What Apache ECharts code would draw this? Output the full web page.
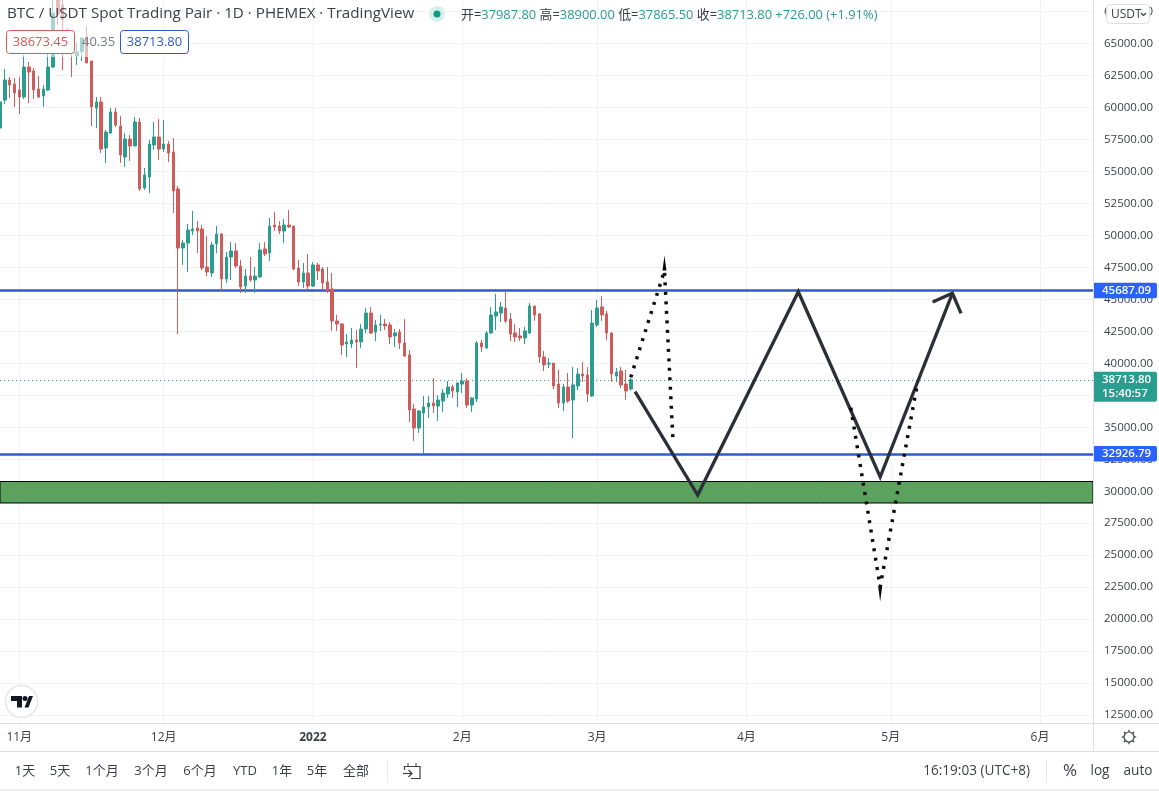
<!DOCTYPE html>
<html>
<head>
<meta charset="utf-8">
<title>BTC / USDT</title>
<script src="https://cdn.jsdelivr.net/npm/echarts@6/dist/echarts.min.js"></script>
<style>
    html, body { margin: 0; padding: 0; background: #fff; }
    #chart { width: 1159px; height: 791px; }
</style>
</head>
<body>
<div id="chart"></div>
<script>
var FONT = '"Open Sans", "Noto Sans CJK SC", sans-serif';
var UP = '#2a9d8f', DOWN = '#cf5b5b', LINE_BLUE = '#3159c9', TAG_BLUE = '#2962ff', INK = '#3c3f46', RULE = '#dcdee3';

var firstDay = '2021-10-28';
var dayCount = 228;
var monthLabels = {
    '2021-11-01': '11月', '2021-12-01': '12月', '2022-01-01': '{b|2022}', '2022-02-01': '2月',
    '2022-03-01': '3月', '2022-04-01': '4月', '2022-05-01': '5月', '2022-06-01': '6月'
};
var priceTicks = [12500, 15000, 17500, 20000, 22500, 25000, 27500, 30000, 32500, 35000, 37500, 40000,
    42500, 45000, 47500, 50000, 52500, 55000, 57500, 60000, 62500, 65000, 67500];

// open, close, low, high
var candles = [
    [58390,60430,58000,60580],[60580,62150,60270,63010],[62150,61760,60740,62380],[61830,61130,60040,62300],
    [61370,60820,59490,62380],[60820,63160,60660,64100],[63160,62770,60350,63550],[62850,61370,60660,63080],
    [61440,60820,60740,62460],[60900,61440,60040,61760],[61370,63160,61290,64490],[63160,67380,63080,68800],
    [68600,67300,66450,69000],[68010,66840,62930,68700],[65900,64880,64340,66210],[65120,64340,62380,65270],
    [64020,64340,63320,65040],[64340,65430,63630,65510],[65510,63480,63480,66370],[63630,60040,58550,63630],
    [59960,60430,58390,60820],[60430,56750,56440,60820],[56830,58080,55660,58240],[58000,59650,57930,59960],
    [59650,58630,58470,59960],[58550,56280,55660,59330],[56130,57530,55350,58000],[57530,56990,55820,57850],
    [56990,58860,56990,59250],[58860,53630,53470,59180],[53700,54720,53550,55270],[54560,57140,53310,57460],
    [57070,57690,56680,58860],[57690,56750,55890,59100],[56750,57140,56520,59020],[57140,56440,55740,57380],
    [56520,53470,51750,57610],[53630,49010,42290,53860],[49010,49400,47690,49640],[49400,50420,47140,50890],
    [50340,50500,50030,51910],[50580,50340,48620,51120],[50500,47450,47290,50810],[47530,47140,46820,49950],
    [47060,49250,46750,49480],[49330,50110,48620,50730],[50110,46590,45650,50190],[46590,48310,46280,48700],
    [48310,48780,46510,49480],[48780,47610,47450,49400],[47610,45970,45500,48080],[46040,46820,45500,47370],
    [46820,46510,46360,48310],[46510,46820,45500,47530],[46750,48860,46670,49400],[48940,48550,48390,49480],
    [48620,50730,48000,51360],[50810,50660,50340,51830],[50730,50340,50110,51120],[50340,50810,49400,51280],
    [50810,50660,50580,51980],[50730,47370,47290,50730],[47450,46360,46040,48080],[46360,47060,45890,47840],
    [47060,46040,45730,48540],[46040,47690,45970,47920],[47690,47220,46510,47840],[47370,46280,45730,47530],
    [46360,45650,45500,47530],[45810,43310,42530,47060],[43310,43070,42530,43780],[43070,41430,40650,43150],
    [41510,41670,40490,42290],[41510,41820,41200,42760],[41820,41670,39630,42600],[41670,42680,41200,43070],
    [42680,43930,42370,44320],[43930,42370,42290,44400],[42450,43000,41740,43390],[43000,43070,42530,43780],
    [43070,42920,42600,43460],[43000,42060,41510,43230],[42140,42370,41280,42680],[42450,41590,41120,42680],
    [41590,40570,40490,43460],[40650,36350,35410,41040],[36430,34940,33930,36820],[34940,36270,34550,36350],
    [36120,36590,32990,37450],[36590,36900,35730,37450],[36900,36660,36120,38850],[36660,37130,35490,37520],
    [37050,37680,36190,37990],[37600,38150,37290,38620],[38150,37840,37290,38310],[37760,38460,36590,38540],
    [38380,38620,37680,39240],[38620,36740,36510,38850],[36740,37290,36190,37370],[37210,41590,36980,41740],
    [41590,41280,40880,41820],[41200,42370,41120,42530],[42370,43780,42290,44400],[43700,44010,42600,45420],
    [43930,44400,43230,44790],[44320,43310,43150,45570],[43460,42290,41740,43930],[42370,42060,41670,43070],
    [42140,41980,41740,42760],[41980,42530,41510,42840],[42370,44480,42290,44720],[44480,43780,43310,44480],
    [43860,40490,40020,43930],[40490,39870,39400,40960],[39950,40020,39630,40420],[40020,38230,37990,40020],
    [38380,36900,36510,39480],[36900,38150,36270,38380],[38150,37050,36900,39240],[37130,38310,34160,39710],
    [38230,39160,37910,39630],[39160,39010,38540,40100],[39090,37600,36980,39710],[37450,43150,37370,44170],
    [43000,44320,42840,44950],[44400,43780,43310,45260],[43860,42370,41820,44090],[42370,39160,38540,42450],
    [39010,39320,38540,39630],[39400,38310,38070,39710],[38380,37840,37130,39480],[37987.8,38713.8,37865.5,38900]
];

var upperLevel = 45687.09;
var lowerLevel = 32926.79;
var lastPrice = 38713.80;
var countdown = '15:40:57';
var supportZone = [29080, 30760];

// drawn projections, as [day index, price]
var solidPath = [[131.9,37780],[144.9,29706],[165.8,45597],[182.8,31113],[197.8,45473]];
var solidArrowHead = [[193.7,44793],[197.8,45473],[199.6,43909]];
var dottedUp = [[131,38906],[138,47239],[139.8,33747]];
var dottedDown = [[176.7,36530],[182.8,22538],[190.6,38562]];
var dottedTipUp = [[138,47841]];
var dottedTipDown = [[182.8,21967]];

var titleText = 'BTC / USDT Spot Trading Pair · 1D · PHEMEX · TradingView';
var quoteParts = [['开=', '37987.80'], ['高=', '38900.00'], ['低=', '37865.50'], ['收=', '38713.80']];
var quoteChange = '+726.00 (+1.91%)';
var bidText = '38673.45', spreadText = '40.35', askText = '38713.80';
var rangeButtons = [['1天', 25], ['5天', 60], ['1个月', 102], ['3个月', 151], ['6个月', 200], ['YTD', 245], ['1年', 282], ['5年', 317], ['全部', 356]];
var clockText = '16:19:03 (UTC+8)';

function buildDays() {
    var days = [], t = Date.parse(firstDay + 'T00:00:00Z');
    for (var i = 0; i < dayCount; i++) {
        days.push(new Date(t + i * 86400000).toISOString().slice(0, 10));
    }
    return days;
}

function isMonthStart(index, value) {
    return monthLabels[value] !== undefined;
}

function text(x, y, str, size, color, align, extra) {
    var style = { x: x, y: y, text: str, font: size + 'px ' + FONT, fill: color, align: align || 'left', verticalAlign: 'middle' };
    for (var k in extra || {}) { style[k] = extra[k]; }
    return { type: 'text', z: 50, silent: true, style: style };
}

function rule(x1, y1, x2, y2, color) {
    return { type: 'line', z: 40, silent: true, shape: { x1: x1, y1: y1, x2: x2, y2: y2 }, style: { stroke: color || RULE, lineWidth: 1 } };
}

function poly(points, color, width) {
    return { type: 'polyline', z: 50, silent: true, shape: { points: points }, style: { stroke: color, lineWidth: width || 1.2, fill: null } };
}

function buildChrome() {
    var g = [];
    // washed out strip behind the header
    g.push({ type: 'rect', z: 30, silent: true, shape: { x: 0, y: 0, width: 120, height: 57 }, style: { fill: 'rgba(255,255,255,0.58)' } });
    g.push(text(7, 14, titleText, 15.2, INK));

    g.push({ type: 'circle', z: 50, silent: true, shape: { cx: 437, cy: 14, r: 8 }, style: { fill: '#d8f0ec' } });
    g.push({ type: 'circle', z: 51, silent: true, shape: { cx: 437, cy: 14, r: 3.5 }, style: { fill: '#109a84' } });
    var rich = { k: { fill: INK, font: '12.9px ' + FONT }, v: { fill: UP, font: '12.9px ' + FONT } };
    var quote = quoteParts.map(function (p) { return '{k|' + p[0] + '}{v|' + p[1] + '}'; }).join('{k| }') + '{k| }{v|' + quoteChange + '}';
    g.push(text(461, 15, quote, 12.9, UP, 'left', { rich: rich }));

    g.push({ type: 'rect', z: 45, silent: true, shape: { x: 6.5, y: 30.5, width: 68, height: 23, r: 3 }, style: { fill: '#fff', stroke: DOWN } });
    g.push(text(40.5, 42, bidText, 13, DOWN, 'center'));
    g.push(text(82, 42, spreadText, 13, '#777b82'));
    g.push({ type: 'rect', z: 45, silent: true, shape: { x: 120.5, y: 30.5, width: 68, height: 23, r: 3 }, style: { fill: '#fff', stroke: LINE_BLUE } });
    g.push(text(154.5, 42, askText, 13, LINE_BLUE, 'center'));

    g.push({ type: 'rect', z: 45, silent: true, shape: { x: 1106.5, y: 4.5, width: 43, height: 19, r: 4 }, style: { fill: '#fff', stroke: '#dcdee3' } });
    g.push(text(1111, 14.5, 'USDT', 12, INK));
    g.push(poly([[1141, 13], [1143.5, 15.5], [1146, 13]], INK));

    // frame around the axes and toolbar
    g.push(rule(0, 723.5, 1159, 723.5));
    g.push(rule(0, 751.5, 1159, 751.5));
    g.push(rule(1093.5, 0, 1093.5, 751));
    g.push(rule(0, 790, 1159, 790));
    g.push(rule(387.5, 760, 387.5, 782, '#e6e8ec'));
    g.push(rule(1046.5, 760, 1046.5, 782, '#e6e8ec'));

    rangeButtons.forEach(function (b) {
        g.push(text(b[1], 771, b[0], 13, INK, 'center'));
    });
    g.push(text(1030, 771, clockText, 13.6, INK, 'right'));
    g.push(text(1070, 771, '%', 17, INK, 'center'));
    g.push(text(1100, 771, 'log', 13.6, INK, 'center'));
    g.push(text(1138, 771, 'auto', 13.6, INK, 'center'));

    // calendar icon
    g.push(poly([[404.5, 770], [404.5, 766.5], [420, 766.5], [420, 778.5], [411, 778.5]], INK));
    g.push(rule(408, 763, 408, 767, INK), rule(416, 763, 416, 767, INK));
    g.push(poly([[403, 773.5], [412, 773.5]], INK), poly([[408.5, 770], [412, 773.5], [408.5, 777]], INK));

    // settings icon
    g.push({ type: 'circle', z: 50, silent: true, shape: { cx: 1129, cy: 737, r: 5 }, style: { fill: '#fff', stroke: INK, lineWidth: 1.2 } });
    for (var a = 0; a < 8; a++) {
        var c = Math.cos(a * Math.PI / 4), s = Math.sin(a * Math.PI / 4);
        g.push(poly([[1129 + c * 5, 737 + s * 5], [1129 + c * 7.2, 737 + s * 7.2]], INK));
    }

    // logo
    g.push({ type: 'circle', z: 50, silent: true, shape: { cx: 21.5, cy: 701.5, r: 16 }, style: { fill: '#fff', stroke: '#e6e6e8', lineWidth: 1.5 } });
    g.push({ type: 'polygon', z: 51, silent: true, shape: { points: [[11, 696], [22, 696], [22, 707.5], [17, 707.5], [17, 701], [11, 701]] }, style: { fill: '#131722' } });
    g.push({ type: 'circle', z: 51, silent: true, shape: { cx: 25, cy: 698.5, r: 2.5 }, style: { fill: '#131722' } });
    g.push({ type: 'polygon', z: 51, silent: true, shape: { points: [[24.5, 707.5], [29, 696], [33, 696], [28.5, 707.5]] }, style: { fill: '#131722' } });
    return g;
}

function sketchLine(points, dotted) {
    return {
        type: 'line', xAxisIndex: 1, yAxisIndex: 0, data: points, symbol: 'none', silent: true, z: 20,
        lineStyle: dotted ? { color: '#0c0c0c', width: 3.5, type: [3, 6.5], cap: 'butt' } : { color: '#2c2f38', width: 3.3, join: 'miter' }
    };
}

function tip(point, rotate) {
    return {
        type: 'scatter', xAxisIndex: 1, yAxisIndex: 0, data: point, symbol: 'triangle', symbolSize: [4, 15],
        symbolRotate: rotate, silent: true, z: 20, itemStyle: { color: '#0c0c0c', opacity: 1 }
    };
}

function levelLine(value, color, tagColor) {
    return {
        yAxis: value,
        lineStyle: { color: color, width: 2.5, type: 'solid' },
        label: {
            show: true, position: 'end', distance: 0, formatter: value.toFixed(2), color: '#fff', fontFamily: FONT, fontSize: 11.5, fontWeight: 600,
            backgroundColor: tagColor, padding: [2, 5, 2, 9], borderRadius: [0, 2, 2, 0], width: 50
        }
    };
}

var chart = echarts.init(document.getElementById('chart'));
chart.setOption({
    animation: false,
    backgroundColor: '#fff',
    textStyle: { fontFamily: FONT },
    grid: { left: 0, top: 0, right: 66, bottom: 68 },
    xAxis: [{
        type: 'category', data: buildDays(), boundaryGap: false,
        axisLine: { show: false }, axisTick: { show: false },
        splitLine: { show: true, interval: isMonthStart, lineStyle: { color: '#f0f2f6' } },
        axisLabel: {
            interval: isMonthStart, margin: 9, color: INK, fontSize: 12, fontFamily: FONT,
            formatter: function (value) { return monthLabels[value]; },
            rich: { b: { fontWeight: 700, fontSize: 12, color: INK, fontFamily: FONT } }
        }
    }, {
        type: 'value', min: 0, max: dayCount - 1, show: false
    }],
    yAxis: {
        type: 'value', position: 'right', min: 11883, max: 68400,
        axisLine: { show: false },
        axisTick: { show: false, customValues: priceTicks },
        splitLine: { show: true, lineStyle: { color: '#f0f2f6' } },
        axisLabel: {
            customValues: priceTicks, inside: false, margin: 11, color: INK, fontSize: 11.5, fontFamily: FONT, padding: [2, 0, 0, 0],
            formatter: function (v) { return v.toFixed(2); }
        }
    },
    graphic: buildChrome(),
    series: [{
        type: 'candlestick', xAxisIndex: 0, yAxisIndex: 0, data: candles, barWidth: 3, silent: true, z: 5,
        itemStyle: { color: UP, color0: DOWN, borderColor: UP, borderColor0: DOWN, borderWidth: 1 },
        markArea: {
            silent: true,
            itemStyle: { color: '#5ba25f', borderColor: '#000', borderWidth: 1 },
            data: [[{ yAxis: supportZone[1] }, { yAxis: supportZone[0] }]]
        },
        markLine: {
            silent: true, symbol: 'none',
            data: [levelLine(upperLevel, LINE_BLUE, TAG_BLUE), levelLine(lowerLevel, LINE_BLUE, TAG_BLUE), {
                yAxis: lastPrice,
                lineStyle: { color: UP, width: 1, type: [1, 3] },
                label: {
                    show: true, position: 'end', distance: 0, offset: [0, 7], formatter: lastPrice.toFixed(2) + '\n' + countdown,
                    color: '#fff', fontFamily: FONT, fontSize: 11.5, fontWeight: 600, lineHeight: 14,
                    backgroundColor: UP, padding: [1, 5, 1, 9], borderRadius: [0, 2, 2, 0], width: 50
                }
            }]
        }
    },
    sketchLine(solidPath), sketchLine(solidArrowHead),
    sketchLine(dottedUp, true), sketchLine(dottedDown, true),
    tip(dottedTipUp, 0), tip(dottedTipDown, 180)]
});
</script>
</body>
</html>
